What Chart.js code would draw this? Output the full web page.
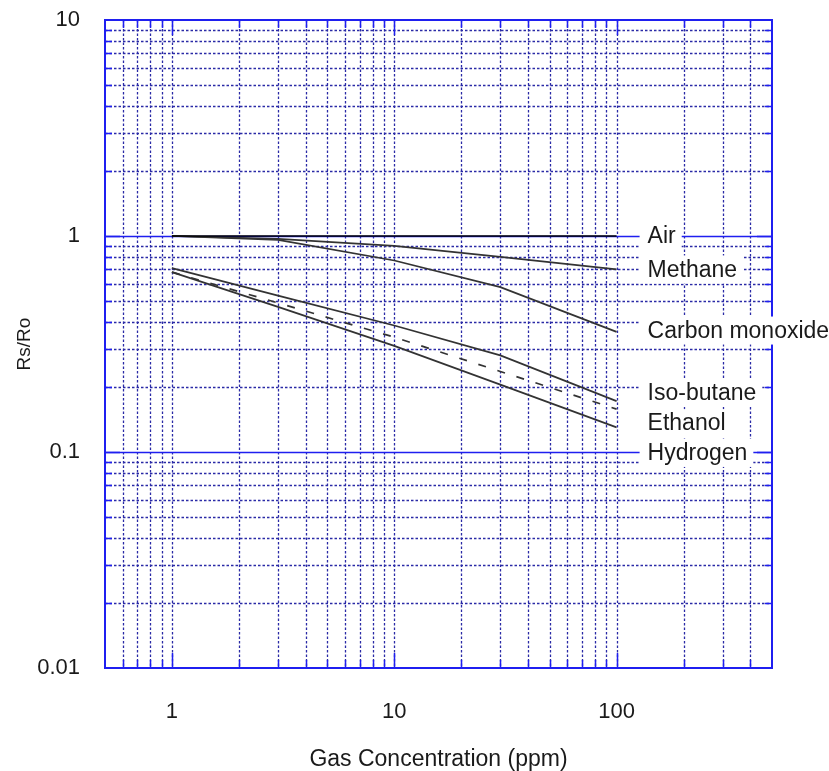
<!DOCTYPE html>
<html>
<head>
<meta charset="utf-8">
<script src="https://cdn.jsdelivr.net/npm/chart.js@4.4.1/dist/chart.umd.min.js"></script>
<style>
  html, body { margin: 0; padding: 0; background: #fff; }
</style>
</head>
<body>
<canvas id="sensChart" width="829" height="771"></canvas>
<script>
const gasConc = [1, 3, 10, 30, 100];
// Rs/Ro per gas
const airRatio = [1, 1, 1, 1, 1];
const methaneRatio = [1.0, 0.97, 0.9, 0.8, 0.7];
const coRatio = [1.0, 0.96, 0.77, 0.58, 0.36];
const isoButaneRatio = [0.71, 0.53, 0.385, 0.28, 0.172];
const ethanolRatio = [0.68, 0.49, 0.34, 0.236, 0.158];
const hydrogenRatio = [0.68, 0.47, 0.31, 0.205, 0.13];

const seriesNames = ['Air', 'Methane', 'Carbon monoxide', 'Iso-butane', 'Ethanol', 'Hydrogen'];
// where each name sits on the Rs/Ro axis
const labelAnchors = [1, 0.7, 0.365, 0.188, 0.136, 0.099];

const xTickLabels = [1, 10, 100];
const yTickLabels = [0.01, 0.1, 1, 10];

const BLUE = '#1f1ff0';
const NAVY = '#2a2aa6';
const INK = '#1a1a1a';

function toPoints(values) {
	return gasConc.map((c, i) => ({ x: c, y: values[i] }));
}

// 1..9 x 10^n steps between min and max
function logSteps(min, max) {
	const out = [];
	for (let e = Math.floor(Math.log10(min)); e <= Math.ceil(Math.log10(max)); e++) {
		for (let m = 1; m <= 9; m++) {
			const v = m * Math.pow(10, e);
			if (v > min * 1.0001 && v < max * 0.9999) out.push({ v: v, major: m === 1 });
		}
	}
	return out;
}

function pickLabel(list, value) {
	const hit = list.find(v => Math.abs(Math.log10(v) - Math.log10(value)) < 1e-6);
	return hit === undefined ? '' : String(hit);
}

const logGrid = {
	id: 'logGrid',
	beforeDatasetsDraw(chart) {
		const { ctx, chartArea: a, scales: { x, y } } = chart;
		ctx.save();

		// dotted grid
		ctx.strokeStyle = NAVY;
		ctx.lineWidth = 1.3;
		ctx.setLineDash([2.5, 2]);
		logSteps(x.min, x.max).forEach(t => {
			const px = Math.round(x.getPixelForValue(t.v)) + 0.5;
			ctx.beginPath();
			ctx.moveTo(px, a.top);
			ctx.lineTo(px, a.bottom);
			ctx.stroke();
		});
		logSteps(y.min, y.max).forEach(t => {
			if (t.major) return;
			const py = Math.round(y.getPixelForValue(t.v)) + 0.5;
			ctx.beginPath();
			ctx.moveTo(a.left, py);
			ctx.lineTo(a.right, py);
			ctx.stroke();
		});
		ctx.setLineDash([]);

		// solid decade rows
		ctx.strokeStyle = BLUE;
		ctx.lineWidth = 1.5;
		logSteps(y.min, y.max).forEach(t => {
			if (!t.major) return;
			const py = Math.round(y.getPixelForValue(t.v)) + 0.5;
			ctx.beginPath();
			ctx.moveTo(a.left, py);
			ctx.lineTo(a.right, py);
			ctx.stroke();
		});

		// inward ticks on all four sides
		ctx.lineWidth = 1.5;
		logSteps(x.min, x.max).forEach(t => {
			const px = Math.round(x.getPixelForValue(t.v)) + 0.5;
			const len = t.major ? 15 : 8;
			ctx.beginPath();
			ctx.moveTo(px, a.bottom);
			ctx.lineTo(px, a.bottom - len);
			ctx.moveTo(px, a.top);
			ctx.lineTo(px, a.top + len);
			ctx.stroke();
		});
		logSteps(y.min, y.max).forEach(t => {
			const py = Math.round(y.getPixelForValue(t.v)) + 0.5;
			const len = t.major ? 15 : 7;
			ctx.beginPath();
			ctx.moveTo(a.left, py);
			ctx.lineTo(a.left + len, py);
			ctx.moveTo(a.right, py);
			ctx.lineTo(a.right - len, py);
			ctx.stroke();
		});

		// frame
		ctx.lineWidth = 2;
		ctx.strokeRect(a.left, a.top, a.right - a.left, a.bottom - a.top);
		ctx.restore();
	}
};

const endLabels = {
	id: 'endLabels',
	afterDatasetsDraw(chart) {
		const { ctx, scales: { x, y } } = chart;
		ctx.save();
		ctx.font = '23px "Liberation Sans", Arial, sans-serif';
		ctx.textBaseline = 'middle';
		const left = x.getPixelForValue(gasConc[gasConc.length - 1]) + 31;
		seriesNames.forEach((name, i) => {
			const py = y.getPixelForValue(labelAnchors[i]);
			const w = ctx.measureText(name).width;
			ctx.fillStyle = '#fff';
			ctx.fillRect(left - 8, py - 14, w + 14, 28);
			ctx.fillStyle = INK;
			ctx.fillText(name, left, py + 1);
		});
		ctx.restore();
	}
};

const lineStyle = {
	borderColor: '#333333',
	borderWidth: 1.7,
	pointRadius: 0,
	tension: 0,
	fill: false
};

const ctx = document.getElementById('sensChart').getContext('2d');
new Chart(ctx, {
	type: 'line',
	data: {
		datasets: [
			Object.assign({}, lineStyle, { label: seriesNames[0], data: toPoints(airRatio), borderColor: '#000' }),
			Object.assign({}, lineStyle, { label: seriesNames[1], data: toPoints(methaneRatio) }),
			Object.assign({}, lineStyle, { label: seriesNames[2], data: toPoints(coRatio) }),
			Object.assign({}, lineStyle, { label: seriesNames[3], data: toPoints(isoButaneRatio) }),
			Object.assign({}, lineStyle, { label: seriesNames[4], data: toPoints(ethanolRatio), borderDash: [8, 12] }),
			Object.assign({}, lineStyle, { label: seriesNames[5], data: toPoints(hydrogenRatio) })
		]
	},
	options: {
		responsive: false,
		animation: false,
		devicePixelRatio: 1,
		layout: { padding: { top: 20, right: 57, left: 0, bottom: 0 } },
		plugins: {
			legend: { display: false },
			tooltip: { enabled: false }
		},
		scales: {
			x: {
				type: 'logarithmic',
				min: 0.5,
				max: 500,
				grid: { display: false },
				border: { display: false },
				ticks: {
					autoSkip: false,
					maxRotation: 0,
					padding: 23,
					color: INK,
					font: { family: '"Liberation Sans", Arial, sans-serif', size: 22 },
					callback: v => pickLabel(xTickLabels, v)
				},
				title: {
					display: true,
					text: 'Gas Concentration (ppm)',
					color: INK,
					padding: 0,
					font: { family: '"Liberation Sans", Arial, sans-serif', size: 23, lineHeight: 1 }
				},
				afterFit(scale) {
					scale.height = 103;
					scale.paddingLeft = 0;
					scale.paddingRight = 0;
				}
			},
			y: {
				type: 'logarithmic',
				min: 0.01,
				max: 10,
				grid: { display: false },
				border: { display: false },
				ticks: {
					autoSkip: false,
					padding: 17,
					color: INK,
					font: { family: '"Liberation Sans", Arial, sans-serif', size: 22 },
					callback: v => pickLabel(yTickLabels, v)
				},
				title: {
					display: true,
					text: 'Rs/Ro',
					color: INK,
					padding: { top: 15, bottom: 0 },
					font: { family: '"Liberation Sans", Arial, sans-serif', size: 19, lineHeight: 1 }
				},
				afterFit(scale) {
					scale.width = 105;
					scale.paddingTop = 0;
					scale.paddingBottom = 0;
				}
			}
		}
	},
	plugins: [logGrid, endLabels]
});
</script>
</body>
</html>
